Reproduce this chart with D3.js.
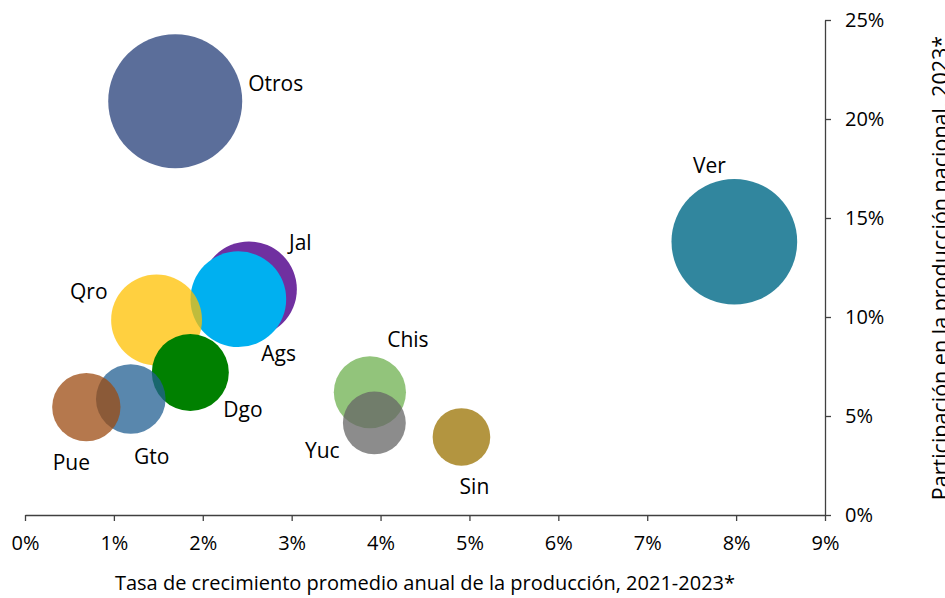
<!DOCTYPE html>
<html>
<head>
<meta charset="utf-8">
<script src="https://cdn.jsdelivr.net/npm/d3@7"></script>
<style>
  body { margin: 0; background: #fff; }
  svg { display: block; font-family: "Open Sans", sans-serif; }
</style>
</head>
<body>
<svg id="chart" width="945" height="598"></svg>
<script>
// values
const states = ["Otros", "Ver", "Jal", "Ags", "Qro", "Dgo", "Gto", "Pue", "Chis", "Yuc", "Sin"];
const growth = [1.69, 7.98, 2.52, 2.40, 1.48, 1.86, 1.19, 0.69, 3.88, 3.93, 4.91];   // % x
const share = [20.9, 13.8, 11.4, 10.9, 9.85, 7.2, 5.86, 5.45, 6.2, 4.65, 3.94];      // % y
const bubble = [100, 88, 51, 51, 46, 33, 27, 26, 29, 22, 18.5];                      // relative size
const xTicks = [0, 1, 2, 3, 4, 5, 6, 7, 8, 9];
const yTicks = [0, 5, 10, 15, 20, 25];

// styling
const colors = ["#5B6E9A", "#31869E", "#7030A0", "#00B0F0", "#FFC000", "#008000", "#225F92", "#9C4B12", "#92C47B", "#666666", "#B39540"];
const alphas = [1, 1, 1, 1, 0.75, 1, 0.75, 0.75, 1, 0.75, 1];
// label offsets from bubble centre [dx, dy, anchor]
const labelPos = [[73, -18, "start"], [-25, -76, "middle"], [40, -47, "start"], [23, 54, "start"],
  [-49, -28, "end"], [33, 37, "start"], [21, 58, "middle"], [-15, 56, "middle"],
  [38, -53, "middle"], [-52, 28, "middle"], [13, 50, "middle"]];

const svg = d3.select("#chart");
const x = d3.scaleLinear().domain([0, 9]).range([25, 825]);
const y = d3.scaleLinear().domain([0, 25]).range([515, 20]);
const r = d3.scaleSqrt().domain([0, 100]).range([0, 67]);
const axisCol = "#404040";

const data = states.map((s, i) => ({ s, gx: growth[i], sh: share[i], b: bubble[i], c: colors[i], a: alphas[i], lp: labelPos[i] }));

// x axis
const gx = svg.append("g")
    .attr("transform", `translate(0,${y(0)})`)
    .call(d3.axisBottom(x).tickValues(xTicks).tickSize(6).tickSizeOuter(0).tickPadding(15).tickFormat(d => d + "%"));
// y axis on the right
const gy = svg.append("g")
    .attr("transform", `translate(${x(9)},0)`)
    .call(d3.axisRight(y).tickValues(yTicks).tickSize(6).tickSizeOuter(0).tickPadding(14).tickFormat(d => d + "%"));
[gx, gy].forEach(g => {
    g.select(".domain").attr("stroke", axisCol).attr("stroke-width", 1.3);
    g.selectAll(".tick line").attr("stroke", axisCol).attr("stroke-width", 1.3);
    g.selectAll(".tick text").attr("fill", "#000").style("font-size", "20px")
        .style("font-family", "'Open Sans', sans-serif");
});

// bubbles
svg.append("g").selectAll("circle")
    .data(data)
    .enter()
    .append("circle")
    .attr("cx", d => x(d.gx))
    .attr("cy", d => y(d.sh))
    .attr("r", d => r(d.b))
    .attr("fill", d => d.c)
    .attr("fill-opacity", d => d.a);

// labels
svg.append("g").selectAll("text")
    .data(data)
    .enter()
    .append("text")
    .attr("x", d => x(d.gx) + d.lp[0])
    .attr("y", d => y(d.sh) + d.lp[1])
    .attr("dy", "0.35em")
    .attr("text-anchor", d => d.lp[2])
    .style("font-size", "21px")
    .text(d => d.s);

// axis titles
svg.append("text")
    .attr("x", 425)
    .attr("y", 590)
    .attr("text-anchor", "middle")
    .style("font-size", "20px")
    .text("Tasa de crecimiento promedio anual de la producción, 2021-2023*");
svg.append("text")
    .attr("transform", "translate(948,268) rotate(-90)")
    .attr("text-anchor", "middle")
    .style("font-size", "21.5px")
    .text("Participación en la producción nacional, 2023*");
</script>
</body>
</html>
